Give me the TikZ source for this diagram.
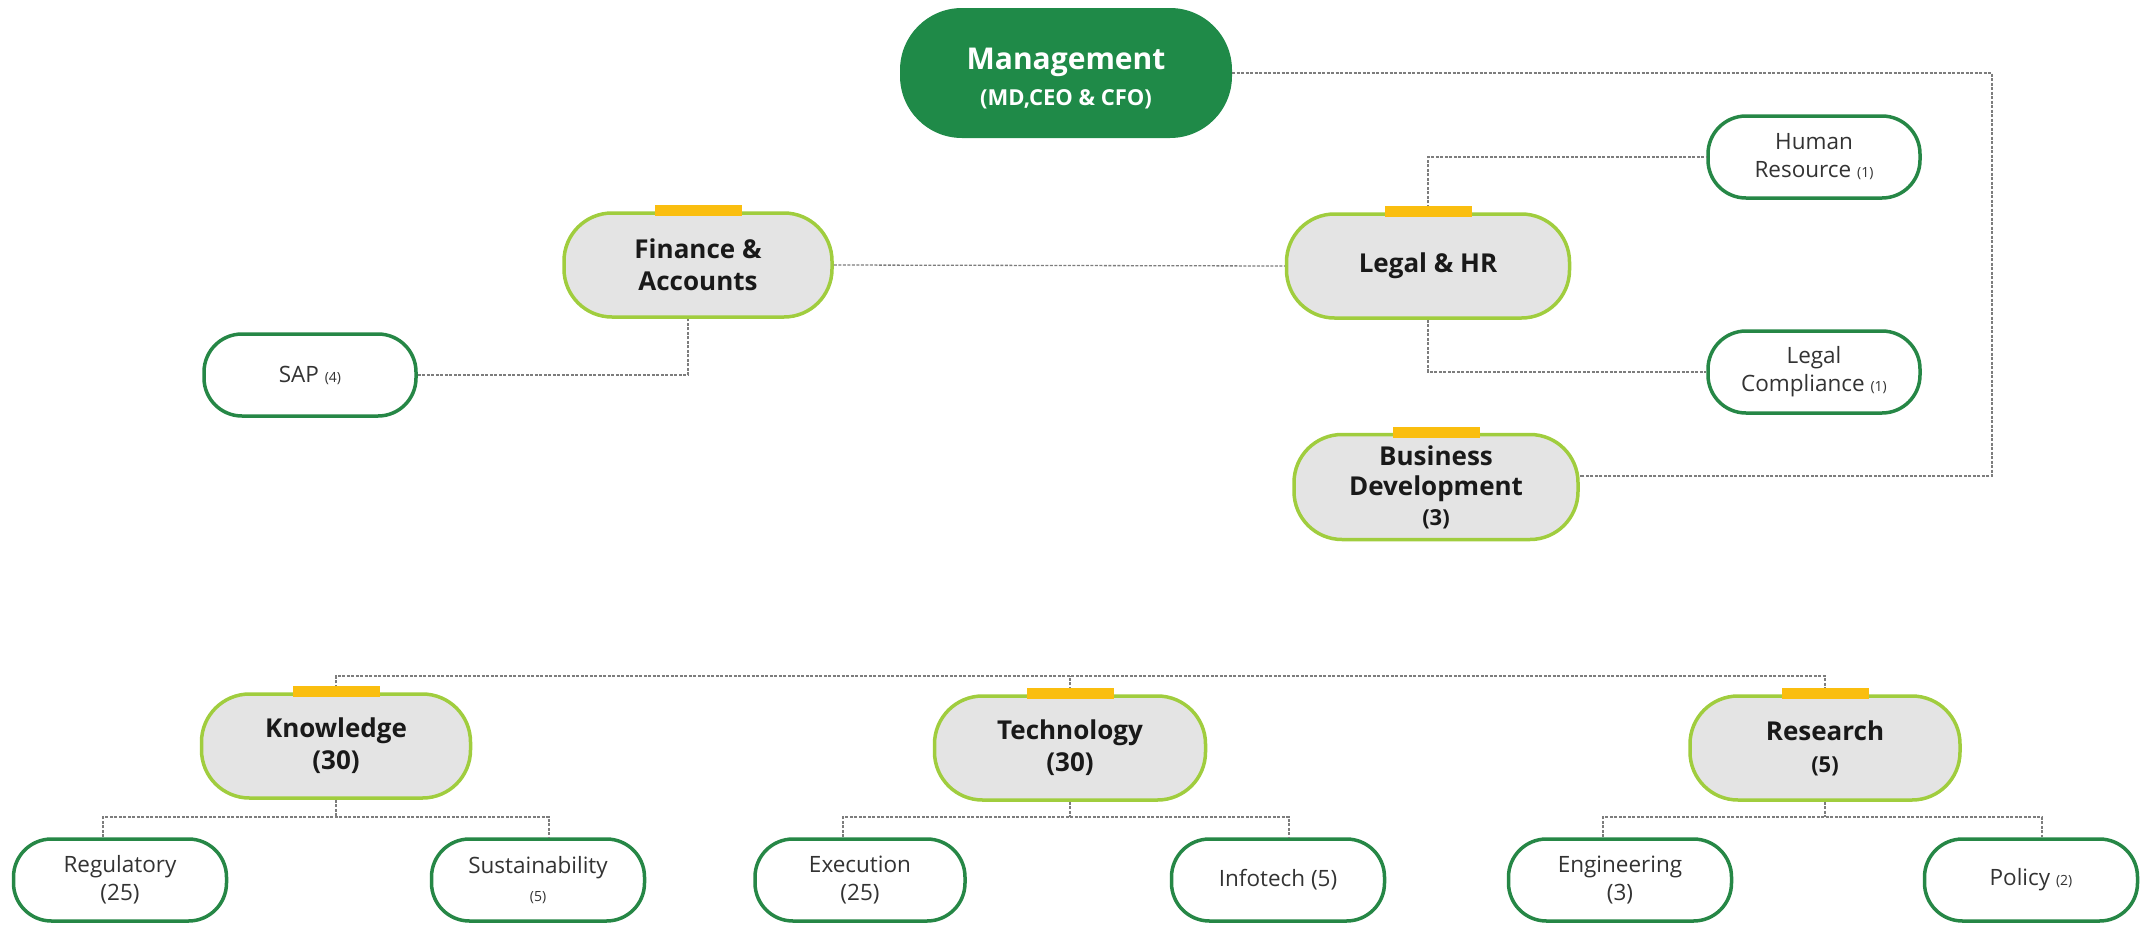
\documentclass[tikz,border=0pt]{standalone}
\usepackage{fontspec}
\setmainfont{Open Sans}
\definecolor{mgreen}{RGB}{31,138,72}
\definecolor{lgreen}{RGB}{160,205,62}
\definecolor{dfill}{RGB}{228,228,228}
\definecolor{ybar}{RGB}{250,190,15}
\definecolor{cgreen}{RGB}{38,135,70}
\definecolor{lgray}{RGB}{125,125,125}
\newcommand{\smallcnt}[1]{{\fontsize{14}{14}\selectfont #1}}
\begin{document}
\begin{tikzpicture}[x=1pt,y=-1pt,
 mgmtbox/.style={rectangle, rounded corners=62pt, fill=mgreen, minimum width=332pt, minimum height=130pt, inner sep=0pt},
 mgmttext/.style={text=white, inner sep=0pt, align=center, font=\bfseries\fontsize{22}{31}\selectfont},
 deptbox/.style={rectangle, rounded corners=48pt, fill=dfill, draw=lgreen, line width=3.5pt, inner sep=0pt, align=center, text=black!90, font=\bfseries\fontsize{26}{32}\selectfont, minimum height=104pt},
 childbox/.style={rectangle, rounded corners=38pt, fill=white, draw=cgreen, line width=3.5pt, inner sep=0pt, align=center, text=black!80, font=\fontsize{22.5}{28}\selectfont, minimum width=212pt, minimum height=82pt},
 conn/.style={draw=lgray, line width=1.3pt, dash pattern=on 3pt off 1.5pt},
 ybarstyle/.style={fill=ybar}]
\useasboundingbox (0,0) rectangle (2145,924);

% top management
\node[mgmtbox] (mgmt) at (1066,73) {};
\node[mgmttext] (mgmtlabel) at ([yshift=-6pt]mgmt.center) {{\fontsize{30}{31}\selectfont Management}\\[5pt](MD,CEO \& CFO)};

% departments
\node[deptbox, minimum width=268pt] (fin) at (698,265) {Finance \&\\Accounts};
\node[deptbox, minimum width=283pt] (leg) at (1428,266) {Legal \& HR};
\node[deptbox, minimum width=284pt, minimum height=105pt, font=\bfseries\fontsize{26}{30}\selectfont] (bd) at (1436,487) {Business\\Development\\{\fontsize{22}{22}\selectfont (3)}};
\node[deptbox, minimum width=269pt] (kn) at (336,746) {Knowledge\\(30)};
\node[deptbox, minimum width=271pt] (tech) at (1070,748) {Technology\\(30)};
\node[deptbox, minimum width=270pt] (res) at (1825,748) {Research\\{\fontsize{22}{22}\selectfont (5)}};

% sub-units
\node[childbox] (sap) at (310,375) {SAP \smallcnt{(4)}};
\node[childbox] (hr) at (1814,157) {Human\\Resource \smallcnt{(1)}};
\node[childbox] (lc) at (1814,372) {Legal\\Compliance \smallcnt{(1)}};
\node[childbox, minimum width=213pt] (reg) at (120,880) {Regulatory\\(25)};
\node[childbox, minimum width=213pt] (sus) at (538,880) {Sustainability\\\smallcnt{(5)}};
\node[childbox, minimum width=210pt] (exe) at (860,880) {Execution\\(25)};
\node[childbox, minimum width=213pt] (inf) at (1278,880) {Infotech (5)};
\node[childbox, minimum width=223pt] (eng) at (1620,880) {Engineering\\(3)};
\node[childbox, minimum width=213pt] (pol) at (2031,880) {Policy \smallcnt{(2)}};

% helper coordinates
\coordinate (rc) at (1992,73);
\coordinate (bus) at (0,676);
\coordinate (kb) at (0,817);

% connectors
\draw[conn] (mgmt.east) -- (rc) |- ([yshift=11pt]bd.east);
\draw[conn] (fin.east) -- (leg.west);
\draw[conn] (sap.east) -| ([xshift=-10pt]fin.south);
\draw[conn] (leg.north) |- (hr.west);
\draw[conn] (leg.south) |- (lc.west);

\draw[conn] (kn.north) -- (kn.north |- bus) -- (res.north |- bus) -- (res.north);
\draw[conn] (tech.north) -- (tech.north |- bus);

\foreach \p/\l/\r in {kn/reg/sus, tech/exe/inf, res/eng/pol}{
  \draw[conn] (\p.south) -- (\p.south |- kb);
  \draw[conn] ([xshift=-17pt]\l.north) -- ([xshift=-17pt]\l.north |- kb) -- ([xshift=11pt]\r.north |- kb) -- ([xshift=11pt]\r.north);
}

% yellow tabs
\foreach \n in {fin,leg,bd,kn,tech,res}{
  \fill[ybarstyle] ([xshift=-43.5pt,yshift=6pt]\n.north) rectangle ([xshift=43.5pt,yshift=-5pt]\n.north);
}
\end{tikzpicture}
\end{document}
